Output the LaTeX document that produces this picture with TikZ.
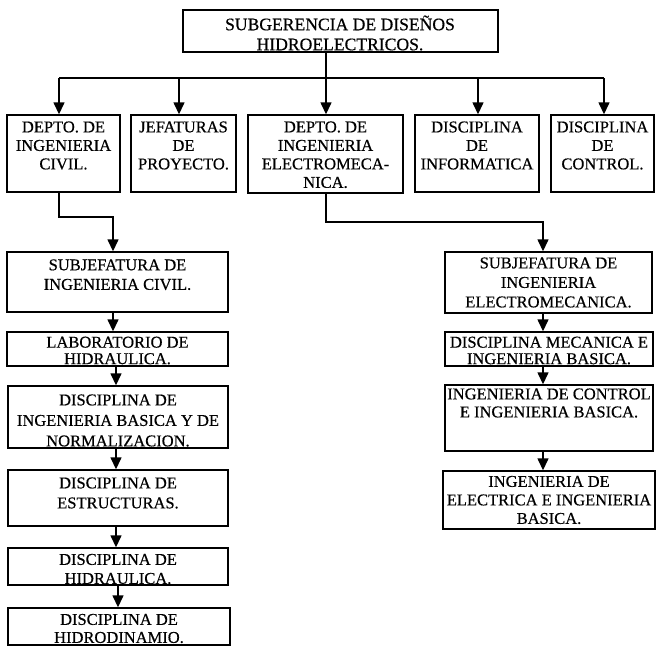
\documentclass[tikz,border=0pt]{standalone}
\usepackage{fontspec}
\setmainfont{Liberation Serif}[FakeBold=0.5]
\usetikzlibrary{arrows.meta,fit}
\tikzset{
  box/.style={draw=black, line width=1.4pt, inner sep=0pt, rectangle},
  txt/.style={align=center, inner sep=0pt, font=\fontsize{16.5}{#1}\selectfont},
  bigtxt/.style={align=center, inner sep=0pt, font=\fontsize{17.6}{#1}\selectfont},
  arr/.style={draw=black, line width=1.4pt, -{Triangle[width=11pt,length=12pt]}},
  ln/.style={draw=black, line width=1.4pt}
}
\begin{document}
\begin{tikzpicture}[x=1pt,y=-1pt]
\useasboundingbox (0,0) rectangle (656,646);
% top
\node[box, fit={(183,10) (498,52)}] (top) {};
\node[bigtxt=20] (topt) at (340,33) {SUBGERENCIA DE DISEÑOS\\HIDROELECTRICOS.};
% first row
\node[box, fit={(7,115) (120,192)}] (b1) {};
\node[txt=18.5] (b1t) at (63.5,145.5) {DEPTO. DE\\INGENIERIA\\CIVIL.};
\node[box, fit={(131,115) (236,192)}] (b2) {};
\node[txt=18.5] (b2t) at (183.5,145.5) {JEFATURAS\\DE\\PROYECTO.};
\node[box, fit={(248,115) (403,193)}] (b3) {};
\node[txt=18.5] (b3t) at (325.5,154.7) {DEPTO. DE\\INGENIERIA\\ELECTROMECA-\\NICA.};
\node[box, fit={(415,115) (539,192)}] (b4) {};
\node[txt=18.5] (b4t) at (477,145.5) {DISCIPLINA\\DE\\INFORMATICA};
\node[box, fit={(551,115) (654,192)}] (b5) {};
\node[txt=18.5] (b5t) at (602.5,145.5) {DISCIPLINA\\DE\\CONTROL.};
% left column
\node[box, fit={(7,252) (228,312)}] (l1) {};
\node[txt=19.5] (l1t) at (117.5,274.7) {SUBJEFATURA DE\\INGENIERIA CIVIL.};
\node[box, fit={(7,332) (228,366)}] (l2) {};
\node[txt=16.5] (l2t) at (117.5,350.5) {LABORATORIO DE\\HIDRAULICA.};
\node[box, fit={(8,386) (228,448)}] (l3) {};
\node[txt=20.5] (l3t) at (118,420.5) {DISCIPLINA DE\\INGENIERIA BASICA Y DE\\NORMALIZACION.};
\node[box, fit={(8,470) (228,526)}] (l4) {};
\node[txt=20] (l4t) at (118,493) {DISCIPLINA DE\\ESTRUCTURAS.};
\node[box, fit={(8,548) (228,585)}] (l5) {};
\node[txt=19] (l5t) at (118,569) {DISCIPLINA DE\\HIDRAULICA.};
\node[box, fit={(8,608) (230,645)}] (l6) {};
\node[txt=18] (l6t) at (119,628.5) {DISCIPLINA DE\\HIDRODINAMIO.};
% right column
\node[box, fit={(445,252) (652,313)}] (r1) {};
\node[txt=19.5] (r1t) at (548.5,282.5) {SUBJEFATURA DE\\INGENIERIA\\ELECTROMECANICA.};
\node[box, fit={(445,332) (653,366)}] (r2) {};
\node[txt=16.5] (r2t) at (549,350.5) {DISCIPLINA MECANICA E\\INGENIERIA BASICA.};
\node[box, fit={(445,385) (653,451)}] (r3) {};
\node[txt=18] (r3t) at (549,403) {INGENIERIA DE CONTROL\\E INGENIERIA BASICA.};
\node[box, fit={(443,471) (655,529)}] (r4) {};
\node[txt=18.5] (r4t) at (549,500) {INGENIERIA DE\\ELECTRICA E INGENIERIA\\BASICA.};
% coordinates for connectors
\coordinate (x3) at (326,0);
\coordinate (ja) at (59,78);
\coordinate (jb) at (604,78);
\coordinate (x2) at (179,0);
\coordinate (x4) at (478,0);
\coordinate (x1) at (59,0);
\coordinate (ka) at (59,217);
\coordinate (kb) at (113,217);
\coordinate (xl) at (116,0);
\coordinate (ma) at (326,222);
\coordinate (mb) at (543,222);
% connectors
\draw[arr] (x3 |- top.south) -- (x3 |- b3.north);
\draw[ln] (ja) -- (jb);
\draw[arr] (ja) -- (ja |- b1.north);
\draw[arr] (x2 |- ja) -- (x2 |- b2.north);
\draw[arr] (x4 |- ja) -- (x4 |- b4.north);
\draw[arr] (jb) -- (jb |- b5.north);
\draw[arr] (x1 |- b1.south) -- (ka) -- (kb) -- (kb |- l1.north);
\draw[arr] (kb |- l1.south) -- (kb |- l2.north);
\draw[arr] (xl |- l2.south) -- (xl |- l3.north);
\draw[arr] (xl |- l3.south) -- (xl |- l4.north);
\draw[arr] (xl |- l4.south) -- (xl |- l5.north);
\draw[arr] ([xshift=2pt]xl |- l5.south) -- ([xshift=2pt]xl |- l6.north);
\draw[arr] (x3 |- b3.south) -- (ma) -- (mb) -- (mb |- r1.north);
\draw[arr] (mb |- r1.south) -- (mb |- r2.north);
\draw[arr] (mb |- r2.south) -- (mb |- r3.north);
\draw[arr] (mb |- r3.south) -- (mb |- r4.north);
\end{tikzpicture}
\end{document}
